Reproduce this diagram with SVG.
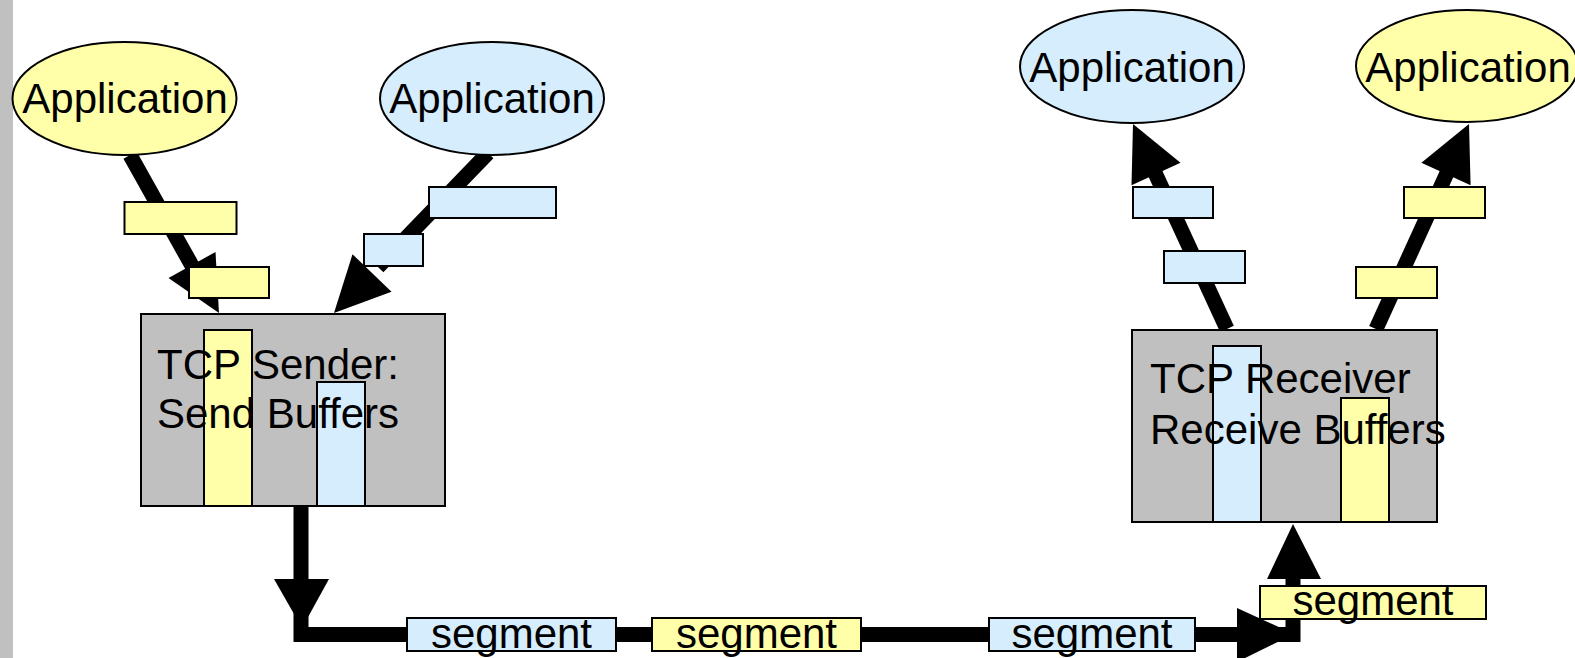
<svg xmlns="http://www.w3.org/2000/svg" width="1575" height="658" viewBox="0 0 1575 658">
  <style>
    .yel { fill: #ffffaa; stroke: #000; stroke-width: 2; }
    .blu { fill: #d5edfc; stroke: #000; stroke-width: 2; }
    .box { fill: #c0c0c0; stroke: #000; stroke-width: 2; }
    .wire { fill: none; stroke: #000; stroke-width: 15; stroke-linejoin: miter; }
    .head { fill: #000; stroke: none; }
    text { font-family: "Liberation Sans", Arial, sans-serif; font-size: 42px; fill: #000; }
    .mid { text-anchor: middle; }
  </style>

  <rect width="1575" height="658" fill="#fff"/>
  <rect x="0" y="0" width="13" height="658" fill="#c0c0c0"/>

  <!-- connectors: thick arrows between applications, buffers and the wire -->
  <g id="connectors">
    <!-- sender side -->
    <line class="wire" x1="130" y1="155" x2="200" y2="280"/>
    <polygon class="head" points="219,313 215.5,252 168.5,278"/>
    <line class="wire" x1="488" y1="153" x2="378" y2="267"/>
    <polygon class="head" points="334,313 391.5,291.7 352.5,254.3"/>
    <!-- sender down to the wire -->
    <line class="wire" x1="301" y1="505" x2="301" y2="590"/>
    <polygon class="head" points="274,579 329,579 302,628"/>
    <polyline class="wire" points="301,590 301,634.5 1245,634.5"/>
    <polygon class="head" points="1237,608 1237,662 1294,634"/>
    <!-- wire up to receiver -->
    <polyline class="wire" points="1262,634.5 1293,634.5 1293,570"/>
    <polygon class="head" points="1267,579 1321,579 1293,524"/>
    <!-- receiver side -->
    <line class="wire" x1="1227" y1="329" x2="1150" y2="162"/>
    <polygon class="head" points="1133,124 1180.5,162.7 1131.5,185.3"/>
    <line class="wire" x1="1376" y1="329" x2="1452" y2="162"/>
    <polygon class="head" points="1469,124 1470.6,185.2 1421.4,162.8"/>
  </g>

  <!-- sending applications -->
  <g id="app-send-yellow">
    <ellipse class="yel" cx="124.5" cy="98.5" rx="112" ry="56.5"/>
    <text class="mid" x="125" y="113">Application</text>
  </g>
  <g id="app-send-blue">
    <ellipse class="blu" cx="492" cy="98.5" rx="112" ry="56.5"/>
    <text class="mid" x="492" y="113">Application</text>
  </g>

  <!-- receiving applications -->
  <g id="app-recv-blue">
    <ellipse class="blu" cx="1132" cy="66.5" rx="112" ry="56.5"/>
    <text class="mid" x="1132" y="82">Application</text>
  </g>
  <g id="app-recv-yellow">
    <ellipse class="yel" cx="1467" cy="66" rx="111" ry="56"/>
    <text class="mid" x="1468" y="82">Application</text>
  </g>

  <!-- data chunks travelling along the arrows -->
  <g id="chunks">
    <rect class="yel" x="124.5" y="202" width="112" height="32"/>
    <rect class="yel" x="189" y="267" width="80" height="31"/>
    <rect class="blu" x="429" y="187" width="127" height="31"/>
    <rect class="blu" x="364" y="234" width="59" height="32"/>
    <rect class="blu" x="1133" y="187" width="80" height="31"/>
    <rect class="blu" x="1164" y="251" width="81" height="32"/>
    <rect class="yel" x="1404" y="187" width="81" height="31"/>
    <rect class="yel" x="1356" y="267" width="81" height="31"/>
  </g>

  <!-- TCP sender with its send buffers -->
  <g id="tcp-sender">
    <rect class="box" x="141" y="314" width="304" height="192"/>
    <rect class="yel" x="204" y="330" width="48" height="176"/>
    <rect class="blu" x="317" y="382" width="48" height="124"/>
    <text x="157" y="379">TCP Sender:</text>
    <text x="157" y="428">Send Buffers</text>
  </g>

  <!-- TCP receiver with its receive buffers -->
  <g id="tcp-receiver">
    <rect class="box" x="1132" y="330" width="305" height="192"/>
    <rect class="blu" x="1213" y="346" width="48" height="176"/>
    <rect class="yel" x="1341" y="398" width="48" height="124"/>
    <text x="1150" y="393">TCP Receiver</text>
    <text x="1150" y="444">Receive Buffers</text>
  </g>

  <!-- segments on the wire -->
  <g id="segment-1">
    <rect class="blu" x="407" y="618" width="209" height="33"/>
    <text class="mid" x="511.5" y="648">segment</text>
  </g>
  <g id="segment-2">
    <rect class="yel" x="652" y="618" width="209" height="33"/>
    <text class="mid" x="756.5" y="648">segment</text>
  </g>
  <g id="segment-3">
    <rect class="blu" x="989" y="618" width="206" height="33"/>
    <text class="mid" x="1092" y="648">segment</text>
  </g>
  <g id="segment-4">
    <rect class="yel" x="1260" y="586" width="226" height="33"/>
    <text class="mid" x="1373" y="615">segment</text>
  </g>
</svg>
